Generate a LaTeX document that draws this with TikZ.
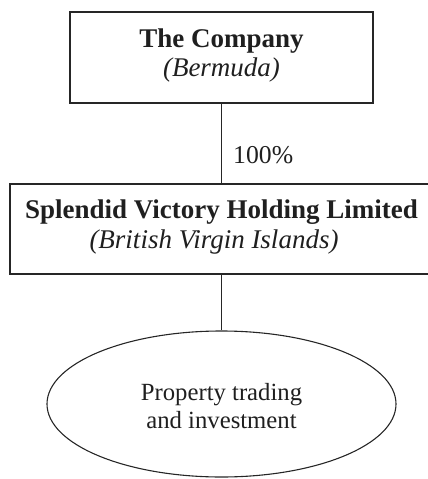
\documentclass[tikz,border=0pt]{standalone}
\usepackage{fontspec}
\setmainfont{Liberation Serif}
\usetikzlibrary{shapes.geometric}
\begin{document}
\begin{tikzpicture}[x=1pt,y=-1pt,
  line/.style={draw=black!85,line width=1.1pt},
  boxshape/.style={line,rectangle,inner sep=0pt},
  ovalshape/.style={line,ellipse,inner sep=0pt,minimum width=349pt,minimum height=146pt},
  bigtext/.style={anchor=base,inner sep=0pt,text=black!88,font=\fontsize{27}{29}\selectfont},
  midtext/.style={anchor=base,inner sep=0pt,text=black!88,font=\fontsize{24.7}{28}\selectfont}]
\useasboundingbox (0,0) rectangle (428,479);
% boxes
\node[boxshape,minimum width=303pt,minimum height=91pt] (co) at (221.5,57.5) {};
\node[boxshape,minimum width=423pt,minimum height=90pt] (svh) at (221.5,229) {};
\node[ovalshape] (prop) at (221.5,404) {};
% texts
\node[bigtext] (coA) at (221.5,47) {\bfseries The Company};
\node[bigtext] (coB) at (221.5,76) {\itshape (Bermuda)};
\node[bigtext] (svA) at (221.5,218) {\bfseries Splendid Victory Holding Limited};
\node[bigtext] (svB) at (214,248) {\itshape (British Virgin Islands)};
\node[midtext] (prA) at (221.5,400) {Property trading};
\node[midtext] (prB) at (221.5,428) {and investment};
% connectors
\draw[line] (co.south) -- (svh.north);
\draw[line] (svh.south) -- (prop.north);
\node[bigtext,anchor=base west,font=\fontsize{25.7}{28}\selectfont] (pct) at (233,163) {100\%};
\end{tikzpicture}
\end{document}
